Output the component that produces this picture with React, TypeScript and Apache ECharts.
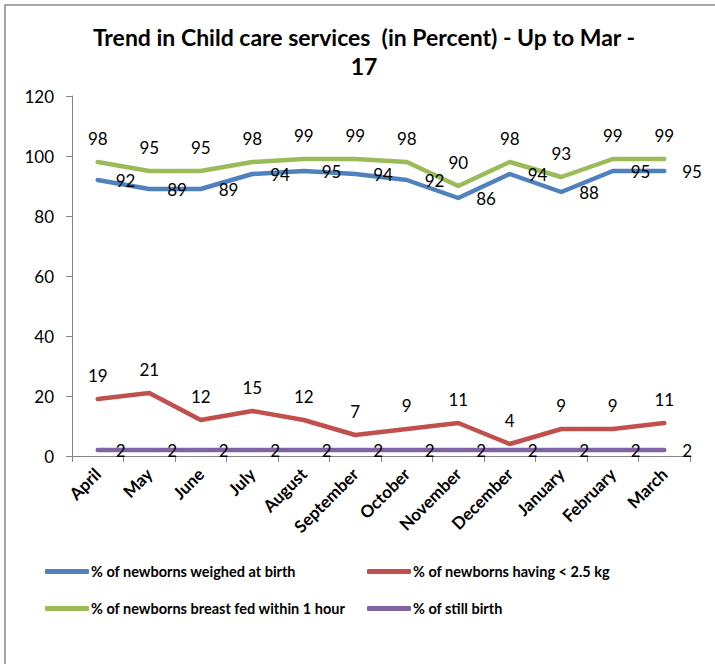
import React, { useEffect, useRef } from "react";
import * as echarts from "echarts";

const months = ["April", "May", "June", "July", "August", "September", "October", "November", "December", "January", "February", "March"];
const weighed = [92, 89, 89, 94, 95, 94, 92, 86, 94, 88, 95, 95];
const lowWeight = [19, 21, 12, 15, 12, 7, 9, 11, 4, 9, 9, 11];
const breastFed = [98, 95, 95, 98, 99, 99, 98, 90, 98, 93, 99, 99];
const stillBirth = [2, 2, 2, 2, 2, 2, 2, 2, 2, 2, 2, 2];
const yTicks = { min: 0, max: 120, interval: 20 };

const FONT = "Lato, 'Noto Sans', sans-serif";

export default function App() {
  const ref = useRef<HTMLDivElement>(null);
  useEffect(() => {
    if (!ref.current) return;
    const chart = echarts.init(ref.current, null, { renderer: "svg" });
    const labelBase = { show: true, color: "#000", fontSize: 17, fontFamily: FONT };
    const mk = (name: string, data: number[], color: string, pos: string, dist: number) => ({
      name,
      type: "line",
      data,
      symbol: "circle",
      symbolSize: 0,
      showSymbol: true,
      lineStyle: { color, width: 4.5, cap: "round", join: "round" },
      itemStyle: { color },
      label: { ...labelBase, position: pos, distance: dist },
      labelLayout: { hideOverlap: false },
    });
    const legendText = { fontFamily: FONT, fontSize: 14.5, fontWeight: "bold", color: "#000", padding: [0, 0, 0, -3] };
    chart.setOption({
      animation: false,
      textStyle: { fontFamily: FONT },
      title: {
        text: "Trend in Child care services  (in Percent) - Up to Mar -\n17",
        left: 359,
        top: 17,
        textAlign: "center",
        textStyle: { fontFamily: FONT, fontWeight: "bold", fontSize: 23, color: "#000", lineHeight: 29 },
      },
      graphic: [
        { type: "rect", shape: { x: 5, y: 5, width: 800, height: 800 }, style: { fill: "none", stroke: "#8a8a8a", lineWidth: 1.5 }, silent: true },
      ],
      legend: [
        {
          orient: "vertical",
          left: 40,
          top: 559,
          itemGap: 22,
          itemWidth: 44,
          itemHeight: 5,
          icon: "roundRect",
          data: ["% of newborns weighed at birth", "% of newborns breast fed within 1 hour"],
          textStyle: legendText,
        },
        {
          orient: "vertical",
          left: 362,
          top: 559,
          itemGap: 22,
          itemWidth: 44,
          itemHeight: 5,
          icon: "roundRect",
          data: ["% of newborns having < 2.5 kg", "% of still birth"],
          textStyle: legendText,
        },
      ],
      grid: { left: 72, right: 25, top: 96, bottom: 208, containLabel: false },
      xAxis: {
        type: "category",
        data: months,
        boundaryGap: true,
        axisLine: { lineStyle: { color: "#868686", width: 1 } },
        axisTick: { show: true, interval: 0, length: 6, lineStyle: { color: "#868686" } },
        axisLabel: { interval: 0, rotate: 45, fontFamily: FONT, fontSize: 17, fontWeight: "bold", color: "#000", margin: 15 },
        splitLine: { show: false },
      },
      yAxis: {
        type: "value",
        min: yTicks.min,
        max: yTicks.max,
        interval: yTicks.interval,
        axisLine: { show: true, lineStyle: { color: "#868686", width: 1 } },
        axisTick: { show: true, length: 6, lineStyle: { color: "#868686" } },
        axisLabel: { fontFamily: FONT, fontSize: 17, color: "#000", margin: 18 },
        splitLine: { show: false },
      },
      series: [
        mk("% of newborns weighed at birth", weighed, "#4F81BD", "right", 18),
        mk("% of newborns having < 2.5 kg", lowWeight, "#C0504D", "top", 15),
        mk("% of newborns breast fed within 1 hour", breastFed, "#9BBB59", "top", 15),
        mk("% of still birth", stillBirth, "#8064A2", "right", 18),
      ],
    });
    return () => chart.dispose();
  }, []);
  return <div ref={ref} style={{ position: "fixed", left: 0, top: 0, width: 715, height: 664, background: "#fff" }} />;
}
